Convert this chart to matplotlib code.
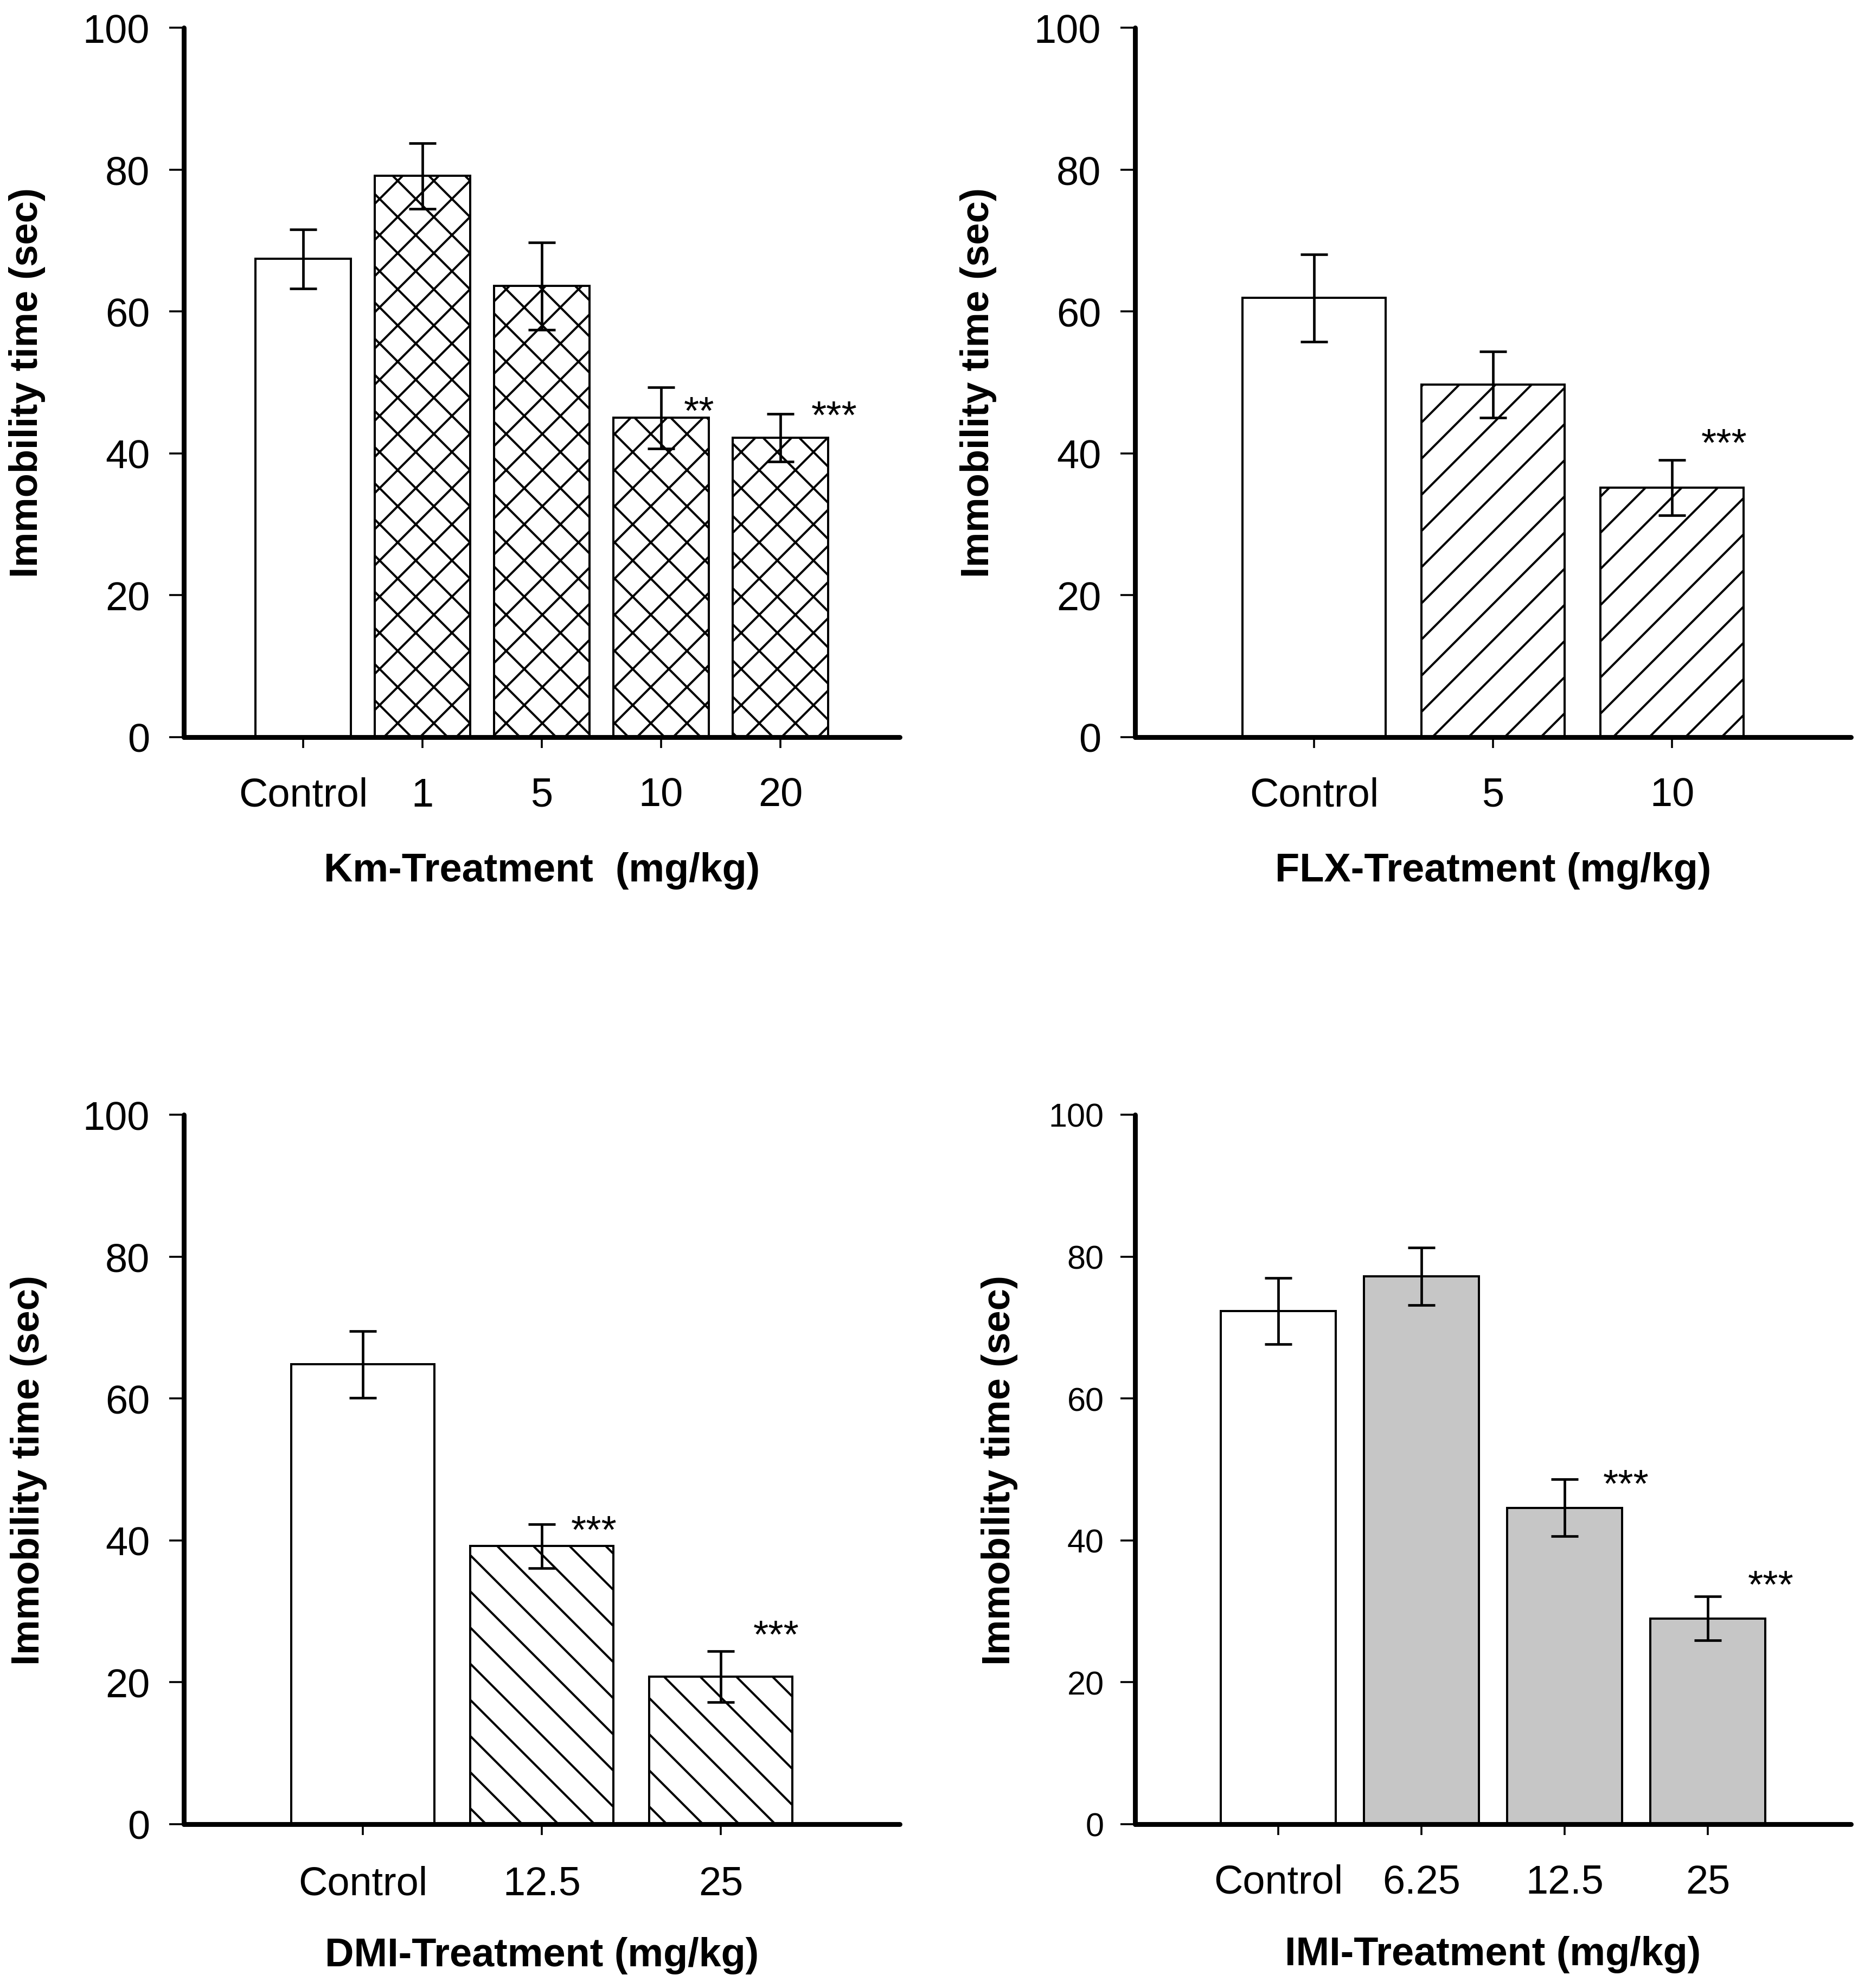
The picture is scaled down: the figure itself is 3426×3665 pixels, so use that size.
import numpy as np
import matplotlib
matplotlib.use('Agg')
import matplotlib.pyplot as plt

plt.rcParams['font.family'] = ['Liberation Sans', 'DejaVu Sans']
plt.rcParams['hatch.linewidth'] = 0.72

# Km panel (top left)
km_labels = ['Control', '1', '5', '10', '20']
km_means = [67.4, 79.1, 63.6, 45.0, 42.2]
km_sem = [4.15, 4.65, 6.15, 4.35, 3.35]
km_star_x = [3.32, 4.45]
km_star_y = [48.2, 47.6]
km_star_txt = ['**', '***']

# FLX panel (top right)
flx_labels = ['Control', '5', '10']
flx_means = [61.9, 49.7, 35.2]
flx_sem = [6.15, 4.65, 3.9]
flx_star_x = [2.29]
flx_star_y = [43.7]
flx_star_txt = ['***']

# DMI panel (bottom left)
dmi_labels = ['Control', '12.5', '25']
dmi_means = [64.8, 39.2, 20.8]
dmi_sem = [4.7, 3.1, 3.6]
dmi_star_x = [1.29, 2.31]
dmi_star_y = [43.7, 28.9]
dmi_star_txt = ['***', '***']

# IMI panel (bottom right)
imi_labels = ['Control', '6.25', '12.5', '25']
imi_means = [72.3, 77.2, 44.6, 29.0]
imi_sem = [4.65, 4.05, 4.0, 3.1]
imi_star_x = [2.43, 3.44]
imi_star_y = [50.2, 36.0]
imi_star_txt = ['***', '***']

W, H = 3426, 3666
fig = plt.figure(figsize=(W / 400, H / 400), dpi=400)

axw = 1320 / W
axh = 1308 / H
ax_km = fig.add_axes([339 / W, 1 - 1360 / H, axw, axh])
ax_flx = fig.add_axes([2093 / W, 1 - 1360 / H, axw, axh])
ax_dmi = fig.add_axes([339 / W, 1 - 3364 / H, axw, axh])
ax_imi = fig.add_axes([2093 / W, 1 - 3364 / H, axw, axh])


def panel(ax, labels, means, sem, hatch, color, xlabel, sx, sy, stxt,
          ytick_size=13.3, ylab_x=-0.193, xlab_y=-0.161, xpad=9.5, ypad=6.5):
    x = np.arange(len(labels))
    # first bar is always the plain white control
    faces = ['white'] + [color] * (len(labels) - 1)
    hatches = [''] + [hatch] * (len(labels) - 1)
    bars = ax.bar(x, means, width=0.8, color=faces, edgecolor='black',
                  linewidth=0.72, zorder=2)
    for b, h in zip(bars, hatches):
        b.set_hatch(h)
    ax.errorbar(x, means, yerr=sem, fmt='none', ecolor='black',
                elinewidth=0.85, capsize=4.5, capthick=0.85, zorder=3)
    for xx, yy, t in zip(sx, sy, stxt):
        ax.text(xx, yy, t, ha='center', va='top', fontsize=13, zorder=4)

    ax.set_xlim(-1, len(labels))
    ax.set_ylim(0, 100)
    ax.set_yticks(np.arange(0, 101, 20))
    ax.set_xticks(x)
    ax.set_xticklabels(labels)
    for s in ['top', 'right']:
        ax.spines[s].set_visible(False)
    for s in ['left', 'bottom']:
        ax.spines[s].set_linewidth(1.6)
        ax.spines[s].set_capstyle('round')
    ax.tick_params(axis='x', direction='out', length=3.6, width=0.65,
                   labelsize=13.3, pad=xpad)
    ax.tick_params(axis='y', direction='out', length=4.8, width=0.65,
                   labelsize=ytick_size, pad=ypad)
    ax.set_ylabel('Immobility time (sec)', fontsize=13, fontweight='bold')
    ax.yaxis.set_label_coords(ylab_x, 0.5)
    ax.set_xlabel(xlabel, fontsize=13.3, fontweight='bold')
    ax.xaxis.set_label_coords(np.mean(x), xlab_y,
                              transform=ax.get_xaxis_transform())


panel(ax_km, km_labels, km_means, km_sem, 'xx', 'white',
      'Km-Treatment  (mg/kg)', km_star_x, km_star_y, km_star_txt)
panel(ax_flx, flx_labels, flx_means, flx_sem, '//', 'white',
      'FLX-Treatment (mg/kg)', flx_star_x, flx_star_y, flx_star_txt)
panel(ax_dmi, dmi_labels, dmi_means, dmi_sem, '\\\\', 'white',
      'DMI-Treatment (mg/kg)', dmi_star_x, dmi_star_y, dmi_star_txt,
      ylab_x=-0.191, xlab_y=-0.158, xpad=10)
panel(ax_imi, imi_labels, imi_means, imi_sem, '', '#c6c6c6',
      'IMI-Treatment (mg/kg)', imi_star_x, imi_star_y, imi_star_txt,
      ytick_size=11, ylab_x=-0.164, xlab_y=-0.157, ypad=5.5)

fig.savefig('out.png', dpi=400, facecolor='white')
